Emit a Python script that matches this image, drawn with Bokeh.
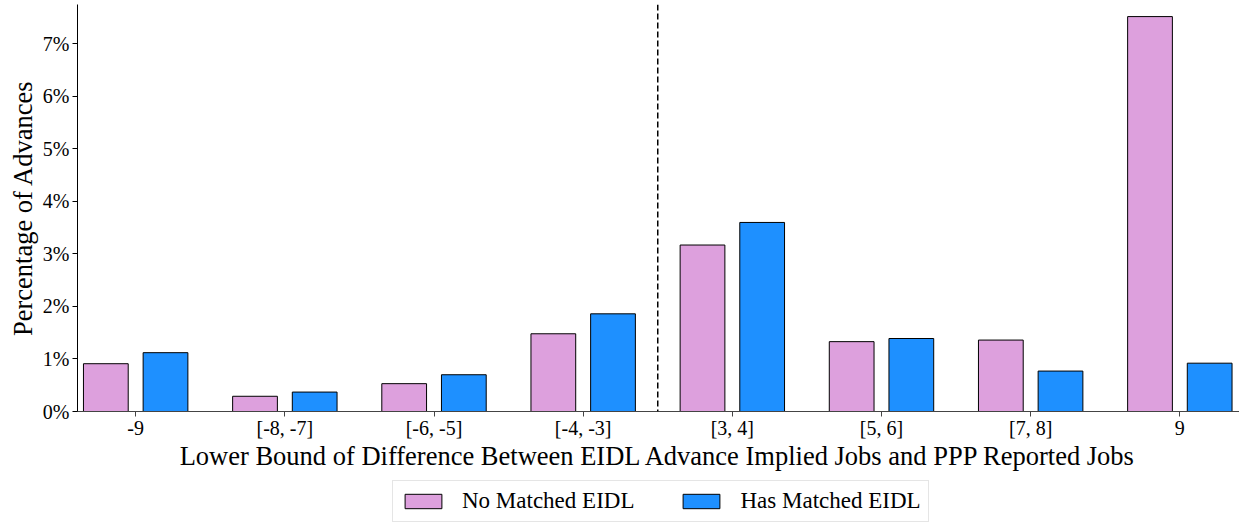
from bokeh.plotting import figure
from bokeh.layouts import column
from bokeh.models import ColumnDataSource, FixedTicker, Span, Legend, LegendItem, Range1d
from bokeh.transform import dodge
from bokeh.embed import file_html
from bokeh.resources import INLINE

categories = ["-9", "[-8, -7]", "[-6, -5]", "[-4, -3]", "[3, 4]", "[5, 6]", "[7, 8]", "9"]
no_matched = [0.91, 0.29, 0.53, 1.48, 3.17, 1.33, 1.36, 7.52]
has_matched = [1.12, 0.37, 0.70, 1.86, 3.60, 1.39, 0.77, 0.92]
y_ticks = [0, 1, 2, 3, 4, 5, 6, 7]
y_tick_labels = ["0%", "1%", "2%", "3%", "4%", "5%", "6%", "7%"]
series_names = ["No Matched EIDL", "Has Matched EIDL"]
series_colors = ["#DDA0DD", "#1E90FF"]
split_at = 3.5

FONT = "Liberation Serif"
W = 1239

src = ColumnDataSource(dict(
    x=list(range(len(categories))),
    no=no_matched,
    has=has_matched,
))

p = figure(width=W, height=478, x_range=Range1d(-0.39, 7.40), y_range=Range1d(0, 7.75),
           output_backend="svg", toolbar_location=None,
           min_border_left=77, min_border_right=0, min_border_top=4, min_border_bottom=67)
p.outline_line_color = None
p.xgrid.visible = False
p.ygrid.visible = False

r1 = p.vbar(x=dodge("x", -0.2), top="no", width=0.3, source=src,
            fill_color=series_colors[0], line_color="black", line_width=1)
r2 = p.vbar(x=dodge("x", 0.2), top="has", width=0.3, source=src,
            fill_color=series_colors[1], line_color="black", line_width=1)

p.add_layout(Span(location=split_at, dimension="height", line_color="black",
                  line_dash="6 3", line_width=1.5))

p.xaxis.ticker = FixedTicker(ticks=list(range(len(categories))))
p.xaxis.major_label_overrides = {i: c for i, c in enumerate(categories)}
p.yaxis.ticker = FixedTicker(ticks=y_ticks)
p.yaxis.major_label_overrides = {t: l for t, l in zip(y_ticks, y_tick_labels)}

for ax in (p.xaxis[0], p.yaxis[0]):
    ax.major_tick_out = 5
    ax.major_tick_in = 0
    ax.minor_tick_line_color = None
    ax.major_label_text_font = FONT
    ax.major_label_text_font_size = "20px"
    ax.major_label_text_color = "black"
    ax.axis_label_text_font = FONT
    ax.axis_label_text_font_size = "26.5px"
    ax.axis_label_text_font_style = "normal"
    ax.axis_label_text_color = "black"
    ax.major_label_standoff = 3
    ax.axis_label_standoff = 2

p.xaxis.major_label_standoff = 0
p.xaxis.axis_label_standoff = -1
p.xaxis.axis_line_color = "#444444"
p.xaxis.major_tick_line_color = "#444444"
p.yaxis.axis_line_color = "black"
p.yaxis.major_tick_line_color = "black"
p.xaxis.axis_label = "Lower Bound of Difference Between EIDL Advance Implied Jobs and PPP Reported Jobs"
p.yaxis.axis_label = "Percentage of Advances"

# Legend panel below the chart (its view range is far from the bars, so only the legend shows)
lg = figure(width=W, height=45, x_range=Range1d(-1000, -999), y_range=Range1d(-1000, -999),
            output_backend="svg", toolbar_location=None,
            x_axis_location=None, y_axis_location=None,
            min_border_left=77, min_border_right=0, min_border_top=0, min_border_bottom=0)
lg.outline_line_color = None
lg.xgrid.visible = False
lg.ygrid.visible = False
lr1 = lg.vbar(x="x", top="no", width=0.3, source=src,
              fill_color=series_colors[0], line_color="black", line_width=1)
lr2 = lg.vbar(x="x", top="has", width=0.3, source=src,
              fill_color=series_colors[1], line_color="black", line_width=1)

legend = Legend(items=[LegendItem(label=series_names[0], renderers=[lr1]),
                       LegendItem(label=series_names[1], renderers=[lr2])],
                orientation="horizontal", location=(315, 1))
legend.border_line_color = "#cccccc"
legend.border_line_width = 1
legend.glyph_width = 46
legend.glyph_height = 18
legend.label_standoff = 16
legend.spacing = 44
legend.padding = 7
legend.margin = 0
legend.label_text_font = FONT
legend.label_text_font_size = "23px"
legend.label_text_color = "black"
legend.background_fill_alpha = 1
lg.add_layout(legend)

layout = column(p, lg, spacing=0)
open("out.html", "w").write(file_html(layout, INLINE))
